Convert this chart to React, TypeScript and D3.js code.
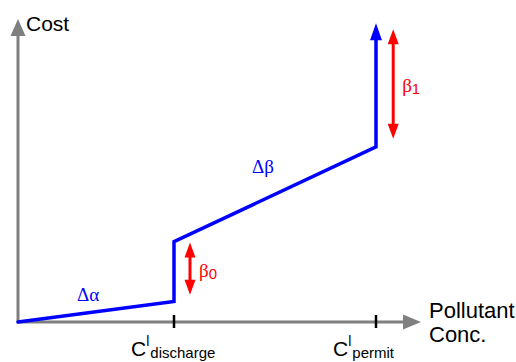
import React, { useEffect, useRef } from 'react';
import * as d3 from 'd3';

// cost curve (concentration, cost) in arbitrary units
const costX = [0, 39, 39, 89.5, 89.5];
const costY = [0, 6.8, 26.5, 57.8, 98.6];
// tick positions on the concentration axis
const tickX = [39, 89.5];
const tickSub = ['discharge', 'permit'];
// red jump markers
const betaX = [43, 93.8];
const betaLow = [9, 60.5];
const betaHigh = [26.2, 96.6];
const betaSub = ['0', '1'];

const W = 516;
const H = 362;

export default function App() {
  const ref = useRef<SVGSVGElement>(null);

  useEffect(() => {
    const svg = d3.select(ref.current);
    svg.selectAll('*').remove();

    const x = d3.scaleLinear().domain([0, 100]).range([18, 418]);
    const y = d3.scaleLinear().domain([0, 100]).range([322, 19]);
    const sans = "'Liberation Sans', Arial, sans-serif";
    const serif = "'Liberation Serif', 'Times New Roman', serif";
    const gray = '#7f7f7f';

    // axes
    svg.append('line')
      .attr('x1', x(0)).attr('y1', y(0))
      .attr('x2', x(0)).attr('y2', y(100) + 14)
      .attr('stroke', gray).attr('stroke-width', 3);
    svg.append('path')
      .attr('d', `M${x(0)},${y(100)} L${x(0) - 7.5},${y(100) + 17} L${x(0) + 7.5},${y(100) + 17}Z`)
      .attr('fill', gray);
    svg.append('line')
      .attr('x1', x(0)).attr('y1', y(0))
      .attr('x2', x(100) - 14).attr('y2', y(0))
      .attr('stroke', gray).attr('stroke-width', 3);
    svg.append('path')
      .attr('d', `M${x(100) + 3},${y(0)} L${x(100) - 15},${y(0) - 7.5} L${x(100) - 15},${y(0) + 7.5}Z`)
      .attr('fill', gray);

    // ticks
    svg.selectAll('.tick')
      .data(tickX)
      .enter()
      .append('line')
      .attr('x1', d => x(d)).attr('x2', d => x(d))
      .attr('y1', y(0) - 7).attr('y2', y(0) + 6)
      .attr('stroke', '#000').attr('stroke-width', 2.5);

    // tick labels C^l_sub
    const tl = svg.selectAll('.tl')
      .data(tickX)
      .enter()
      .append('text')
      .attr('x', d => x(d) - 43)
      .attr('y', 356)
      .style('font-family', sans)
      .attr('font-size', 21)
      .attr('fill', '#000');
    tl.append('tspan').text('C');
    tl.append('tspan').attr('dy', -10).attr('font-size', 14).text('l');
    tl.append('tspan').attr('dy', 12).attr('dx', 1).attr('font-size', 15)
      .text((d, i) => tickSub[i]);

    // axis titles
    svg.append('text')
      .attr('x', 26).attr('y', 31)
      .style('font-family', sans).attr('font-size', 21)
      .text('Cost');
    const xt = svg.append('text')
      .style('font-family', sans).attr('font-size', 22);
    xt.append('tspan').attr('x', 429).attr('y', 318).text('Pollutant');
    xt.append('tspan').attr('x', 429).attr('y', 342).text('Conc.');

    // cost curve
    const pts: [number, number][] = costX.map((d, i) => [x(d), y(costY[i])]);
    const line = d3.line();
    svg.append('path')
      .attr('d', line(pts.slice(0, pts.length - 1).concat([[x(89.5), y(98.6) + 14]])))
      .attr('fill', 'none')
      .attr('stroke', '#0000ff')
      .attr('stroke-width', 3.5)
      .attr('stroke-linejoin', 'miter')
      .attr('stroke-linecap', 'round');
    const top = pts[pts.length - 1];
    svg.append('path')
      .attr('d', `M${top[0]},${top[1]} L${top[0] - 6},${top[1] + 17} L${top[0] + 6},${top[1] + 17}Z`)
      .attr('fill', '#0000ff');

    // slope labels
    const dl = [
      { x: 77, y: 301, t: 'Δα' },
      { x: 252, y: 173, t: 'Δβ' }
    ];
    svg.selectAll('.dl')
      .data(dl)
      .enter()
      .append('text')
      .attr('x', d => d.x).attr('y', d => d.y)
      .style('font-family', serif).attr('font-size', 19)
      .attr('fill', '#0000ff')
      .text(d => d.t);

    // red double arrows
    const bg = svg.selectAll('.beta')
      .data(betaX)
      .enter()
      .append('g');
    bg.append('line')
      .attr('x1', d => x(d)).attr('x2', d => x(d))
      .attr('y1', (d, i) => y(betaHigh[i]) + 10)
      .attr('y2', (d, i) => y(betaLow[i]) - 10)
      .attr('stroke', '#ff0000').attr('stroke-width', 3);
    bg.append('path')
      .attr('d', (d, i) => {
        const cx = x(d);
        const t = y(betaHigh[i]);
        const b = y(betaLow[i]);
        return `M${cx},${t} L${cx - 5.5},${t + 15} L${cx + 5.5},${t + 15}Z` +
          `M${cx},${b} L${cx - 5.5},${b - 15} L${cx + 5.5},${b - 15}Z`;
      })
      .attr('fill', '#ff0000');
    const bt = bg.append('text')
      .attr('x', d => x(d) + 9)
      .attr('y', (d, i) => (y(betaHigh[i]) + y(betaLow[i])) / 2 + 8)
      .attr('fill', '#ff0000');
    bt.append('tspan').style('font-family', serif).attr('font-size', 19).text('β');
    bt.append('tspan').style('font-family', sans).attr('font-size', 15).attr('dy', 2)
      .text((d, i) => betaSub[i]);
  }, []);

  return (
    <div style={{ position: 'absolute', left: 0, top: 0 }}>
      <svg ref={ref} width={W} height={H} style={{ display: 'block', background: '#fff' }} />
    </div>
  );
}
